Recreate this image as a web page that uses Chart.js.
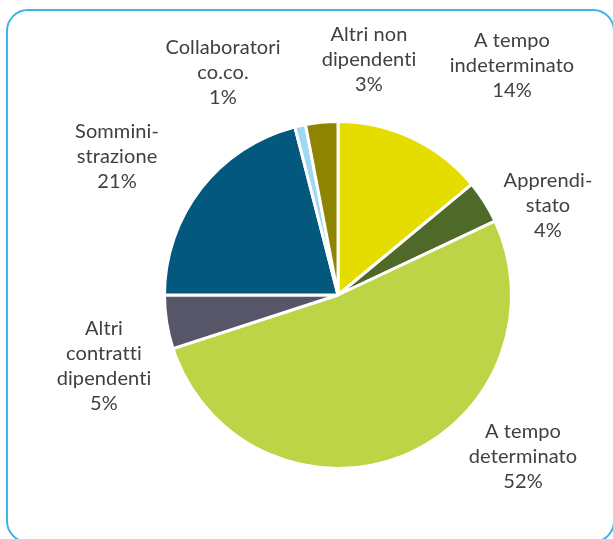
<!DOCTYPE html>
<html>
<head>
<meta charset="utf-8">
<script src="https://cdn.jsdelivr.net/npm/chart.js@4.4.1/dist/chart.umd.min.js"></script>
<style>
  html, body { margin: 0; padding: 0; background: #ffffff; }
  body { width: 613px; height: 539px; position: relative; overflow: hidden; }
  #frame { position: absolute; left: 6px; top: 9px; width: 605px; height: 530px;
           border: 2px solid #3db3ea; border-radius: 22px; }
  #wrap { position: absolute; left: 0; top: 0; width: 613px; height: 539px; }
</style>
</head>
<body>
<div id="frame"></div>
<div id="wrap"><canvas id="c" width="613" height="539"></canvas></div>
<script>
// ---- data ----
const categories = [
  "A tempo indeterminato",
  "Apprendistato",
  "A tempo determinato",
  "Altri contratti dipendenti",
  "Somministrazione",
  "Collaboratori co.co.",
  "Altri non dipendenti"
];
const values = [14, 4, 52, 5, 21, 1, 3];
const labelLines = [
  ["A tempo", "indeterminato"],
  ["Apprendi-", "stato"],
  ["A tempo", "determinato"],
  ["Altri", "contratti", "dipendenti"],
  ["Sommini-", "strazione"],
  ["Collaboratori", "co.co."],
  ["Altri non", "dipendenti"]
];
const sliceColors = ["#e6dd00", "#4f6a28", "#bdd447", "#575669", "#03587e", "#9fd8f2", "#8e8400"];

// ---- label layout (text block centre x, first baseline y) ----
const labelAnchors = [
  [512, 47], [548, 187], [523, 438], [104, 335], [117, 138], [223, 54], [369, 41]
];
const lineHeight = 25;

const labelPlugin = {
  id: 'outsideLabels',
  afterDraw(chart) {
    const ctx = chart.ctx;
    const ds = chart.data.datasets[0].data;
    const total = ds.reduce((a, b) => a + b, 0);
    ctx.save();
    ctx.font = '20px Lato, "Liberation Sans", sans-serif';
    if ('letterSpacing' in ctx) ctx.letterSpacing = '0.1px';
    ctx.fillStyle = '#404040';
    ctx.textAlign = 'center';
    ctx.textBaseline = 'alphabetic';
    ds.forEach((v, i) => {
      const lines = labelLines[i].concat([Math.round(v / total * 100) + '%']);
      const [cx, by] = labelAnchors[i];
      lines.forEach((t, k) => ctx.fillText(t, cx, by + k * lineHeight));
    });
    ctx.restore();
  }
};

new Chart(document.getElementById('c'), {
  type: 'pie',
  data: {
    labels: categories,
    datasets: [{
      data: values,
      backgroundColor: sliceColors,
      borderColor: '#ffffff',
      borderWidth: 3
    }]
  },
  options: {
    responsive: false,
    animation: false,
    layout: { padding: { left: 163, right: 100, top: 120, bottom: 69 } },
    plugins: { legend: { display: false }, tooltip: { enabled: false } }
  },
  plugins: [labelPlugin]
});
</script>
</body>
</html>
